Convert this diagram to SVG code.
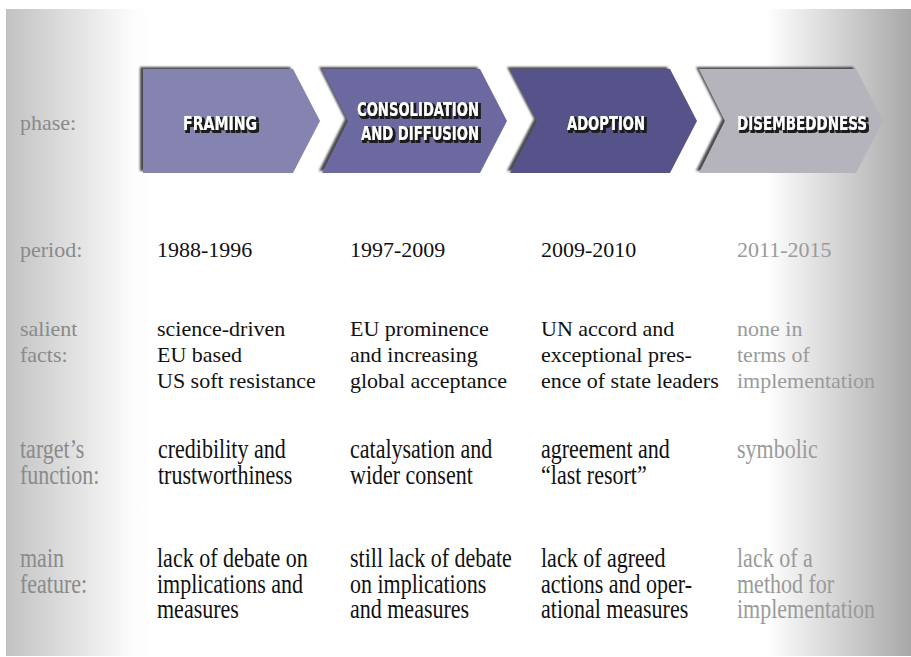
<svg xmlns="http://www.w3.org/2000/svg" width="911" height="657" viewBox="0 0 911 657">
  <defs>
    <linearGradient id="panelGrad" x1="0" y1="0" x2="1" y2="0">
      <stop offset="0" stop-color="#c2c2c2"/>
      <stop offset="0.14" stop-color="#fcfcfc"/>
      <stop offset="0.16" stop-color="#ffffff"/>
      <stop offset="0.84" stop-color="#ffffff"/>
      <stop offset="1" stop-color="#a8a8a8"/>
    </linearGradient>
    <!-- dark edge along the top and left of each arrow -->
    <filter id="edgeShade" x="-10%" y="-10%" width="120%" height="120%">
      <feGaussianBlur in="SourceAlpha" stdDeviation="0.8" result="b"/>
      <feOffset in="b" dx="-3" dy="-2" result="o"/>
      <feFlood flood-color="#2a2a30" flood-opacity="0.85"/>
      <feComposite in2="o" operator="in" result="s"/>
      <feMerge>
        <feMergeNode in="s"/>
        <feMergeNode in="SourceGraphic"/>
      </feMerge>
    </filter>
    <!-- outlined drop shadow for the white arrow titles -->
    <filter id="titleShadow" x="-10%" y="-30%" width="120%" height="160%">
      <feMorphology in="SourceAlpha" operator="dilate" radius="0.7" result="d"/>
      <feOffset in="d" dx="1.6" dy="1.6" result="o"/>
      <feFlood flood-color="#1a1a1a"/>
      <feComposite in2="o" operator="in" result="s"/>
      <feMorphology in="SourceAlpha" operator="dilate" radius="0.4" result="e"/>
      <feFlood flood-color="#333333" flood-opacity="0.8"/>
      <feComposite in2="e" operator="in" result="ring"/>
      <feMerge>
        <feMergeNode in="s"/>
        <feMergeNode in="ring"/>
        <feMergeNode in="SourceGraphic"/>
      </feMerge>
    </filter>
  </defs>
  <style>
    .lab { font-family: "Liberation Serif", "Times New Roman", serif; font-size: 22px; fill: #8a8a8a; }
    .txt { font-family: "Liberation Serif", "Times New Roman", serif; font-size: 22px; fill: #111111; }
    .dim { font-family: "Liberation Serif", "Times New Roman", serif; font-size: 22px; fill: #9a9a9a; }
    .tall { font-size: 28px; }
    .head { font-family: "DejaVu Sans Condensed", "Liberation Sans Narrow", "DejaVu Sans", sans-serif; font-weight: bold; font-size: 19px; text-anchor: middle; fill: #ffffff; filter: url(#titleShadow); }
  </style>

  <!-- background panel -->
  <rect x="0" y="0" width="911" height="657" fill="#ffffff"/>
  <rect x="6" y="9" width="905" height="647" fill="url(#panelGrad)"/>

  <!-- phase arrows -->
  <g id="framing">
    <path d="M143,69 L293,69 L320,121 L293,173 L143,173 Z" fill="#8583af" filter="url(#edgeShade)"/>
    <text class="head" x="220" y="130" textLength="74" lengthAdjust="spacingAndGlyphs">FRAMING</text>
  </g>
  <g id="consolidation">
    <path d="M322,69 L480,69 L507,121 L480,173 L322,173 L348,121 Z" fill="#6c69a0" filter="url(#edgeShade)"/>
    <text class="head" x="418" y="116" textLength="122" lengthAdjust="spacingAndGlyphs">CONSOLIDATION</text>
    <text class="head" x="420" y="140" textLength="118" lengthAdjust="spacingAndGlyphs">AND DIFFUSION</text>
  </g>
  <g id="adoption">
    <path d="M510,69 L670,69 L697,121 L670,173 L510,173 L537,121 Z" fill="#56528a" filter="url(#edgeShade)"/>
    <text class="head" x="606" y="130" textLength="78" lengthAdjust="spacingAndGlyphs">ADOPTION</text>
  </g>
  <g id="disembeddness">
    <path d="M699,69 L856,69 L883,121 L856,173 L699,173 L725,121 Z" fill="#b5b4bc" filter="url(#edgeShade)"/>
    <text class="head" x="802" y="130" textLength="130" lengthAdjust="spacingAndGlyphs">DISEMBEDDNESS</text>
  </g>

  <!-- row labels -->
  <g id="row-labels">
    <text class="lab" x="20" y="130">phase:</text>
    <text class="lab" x="20" y="257">period:</text>
    <text class="lab" x="20" y="336">salient</text>
    <text class="lab" x="20" y="362">facts:</text>
    <text class="lab tall" transform="translate(20,458) scale(0.786,1)">target’s</text>
    <text class="lab tall" transform="translate(20,484) scale(0.786,1)">function:</text>
    <text class="lab tall" transform="translate(20,567) scale(0.786,1)">main</text>
    <text class="lab tall" transform="translate(20,593) scale(0.786,1)">feature:</text>
  </g>

  <!-- period row -->
  <g id="period">
    <text class="txt" x="157" y="257">1988-1996</text>
    <text class="txt" x="350" y="257">1997-2009</text>
    <text class="txt" x="541" y="257">2009-2010</text>
    <text class="dim" x="737" y="257">2011-2015</text>
  </g>

  <!-- salient facts row -->
  <g id="salient-facts">
    <text class="txt" x="157" y="336">science-driven</text>
    <text class="txt" x="157" y="362">EU based</text>
    <text class="txt" x="157" y="388">US soft resistance</text>
    <text class="txt" x="350" y="336">EU prominence</text>
    <text class="txt" x="350" y="362">and increasing</text>
    <text class="txt" x="350" y="388">global acceptance</text>
    <text class="txt" x="541" y="336">UN accord and</text>
    <text class="txt" x="541" y="362">exceptional pres-</text>
    <text class="txt" x="541" y="388">ence of state leaders</text>
    <text class="dim" x="737" y="336">none in</text>
    <text class="dim" x="737" y="362">terms of</text>
    <text class="dim" x="737" y="388">implementation</text>
  </g>

  <!-- target's function row -->
  <g id="target-function">
    <text class="txt tall" transform="translate(158,458) scale(0.786,1)">credibility and</text>
    <text class="txt tall" transform="translate(158,484) scale(0.786,1)">trustworthiness</text>
    <text class="txt tall" transform="translate(350,458) scale(0.786,1)">catalysation and</text>
    <text class="txt tall" transform="translate(350,484) scale(0.786,1)">wider consent</text>
    <text class="txt tall" transform="translate(541,458) scale(0.786,1)">agreement and</text>
    <text class="txt tall" transform="translate(541,484) scale(0.786,1)">“last resort”</text>
    <text class="dim tall" transform="translate(737,458) scale(0.786,1)">symbolic</text>
  </g>

  <!-- main feature row -->
  <g id="main-feature">
    <text class="txt tall" transform="translate(157,567) scale(0.786,1)">lack of debate on</text>
    <text class="txt tall" transform="translate(157,593) scale(0.786,1)">implications and</text>
    <text class="txt tall" transform="translate(157,618) scale(0.786,1)">measures</text>
    <text class="txt tall" transform="translate(350,567) scale(0.786,1)">still lack of debate</text>
    <text class="txt tall" transform="translate(350,593) scale(0.786,1)">on implications</text>
    <text class="txt tall" transform="translate(350,618) scale(0.786,1)">and measures</text>
    <text class="txt tall" transform="translate(541,567) scale(0.786,1)">lack of agreed</text>
    <text class="txt tall" transform="translate(541,593) scale(0.786,1)">actions and oper-</text>
    <text class="txt tall" transform="translate(541,618) scale(0.786,1)">ational measures</text>
    <text class="dim tall" transform="translate(737,567) scale(0.786,1)">lack of a</text>
    <text class="dim tall" transform="translate(737,593) scale(0.786,1)">method for</text>
    <text class="dim tall" transform="translate(737,618) scale(0.786,1)">implementation</text>
  </g>
</svg>
